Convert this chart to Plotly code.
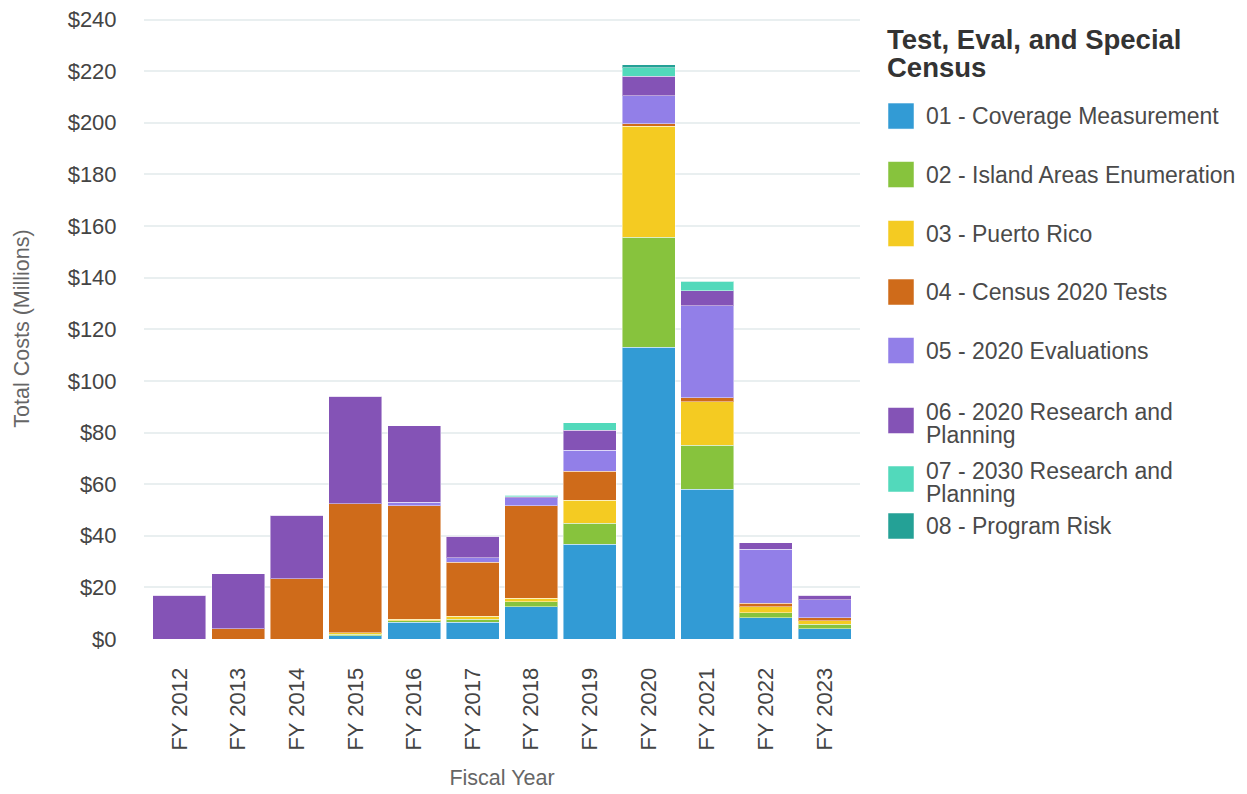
import plotly.graph_objects as go

years = ["FY 2012", "FY 2013", "FY 2014", "FY 2015", "FY 2016", "FY 2017",
         "FY 2018", "FY 2019", "FY 2020", "FY 2021", "FY 2022", "FY 2023"]

series_names = [
    "01 - Coverage Measurement",
    "02 - Island Areas Enumeration",
    "03 - Puerto Rico",
    "04 - Census 2020 Tests",
    "05 - 2020 Evaluations",
    "06 - 2020 Research and<br>Planning",
    "07 - 2030 Research and<br>Planning",
    "08 - Program Risk",
]

coverage    = [0, 0, 0, 1.2, 6.5, 6.5, 12.5, 36.7, 113.0, 58.1, 8.3, 3.9]
island      = [0, 0, 0, 0.6, 0.6, 1.2, 1.9, 8.1, 42.6, 16.9, 1.9, 1.9]
puerto_rico = [0, 0, 0, 0.6, 0.6, 1.2, 1.3, 8.9, 43.0, 17.0, 2.3, 1.3]
tests_2020  = [0, 3.9, 23.3, 50.1, 44.0, 20.8, 36.0, 11.2, 1.0, 1.4, 1.4, 1.2]
evals_2020  = [0, 0, 0, 0, 1.2, 1.8, 3.1, 8.3, 10.9, 35.8, 20.9, 6.9]
rp_2020     = [17.0, 21.4, 24.7, 41.6, 29.8, 8.4, 0.3, 7.6, 7.6, 5.8, 2.5, 1.8]
rp_2030     = [0, 0, 0, 0, 0, 0, 0.5, 2.9, 3.2, 3.6, 0, 0]
program_risk= [0, 0, 0, 0, 0, 0, 0, 0, 1.2, 0, 0, 0]

series_values = [coverage, island, puerto_rico, tests_2020, evals_2020,
                 rp_2020, rp_2030, program_risk]

colors = ["#329bd5", "#87c33d", "#f4cb22", "#cf6b1a", "#927fe8",
          "#8453b6", "#52d9bb", "#24a196"]

y_ticks = list(range(0, 241, 20))
y_tick_labels = [f"${v}" for v in y_ticks]

legend_title_lines = ["Test, Eval, and Special", "Census"]

FONT = "Liberation Sans, Arial, sans-serif"
W, H = 1247, 794
OFF = 8  # page body margin

# plot area in page pixels (y range extends slightly above 240)
Y_MAX = 240.6
PL, PR, PB = 144, 860, 639.5
PT = PB - (PB - 20) * Y_MAX / 240


def px(xp):
    return (xp - PL) / (PR - PL)


def py(yp):
    return (PB - yp) / (PB - PT)


fig = go.Figure()
for name, vals, col in zip(series_names, series_values, colors):
    fig.add_trace(go.Bar(
        x=years, y=vals, name=name.replace("<br>", " "),
        marker=dict(color=col, line=dict(color="rgba(255,255,255,0.45)", width=1)),
        showlegend=False,
    ))

# custom legend (layout decoration)
LEG_X = 888
title_centers = [40, 68]
square_centers = [116.5, 175, 234, 292.5, 351, 421, 479.5, 526.5]
text_centers = [[116.5], [175], [234], [292.5], [351], [412.5, 435.5], [471.5, 494.5], [526.5]]

shapes = []
annotations = []
for line, yc in zip(legend_title_lines, title_centers):
    annotations.append(dict(
        xref="paper", yref="paper", x=px(LEG_X - 2), y=py(yc),
        xanchor="left", yanchor="middle", showarrow=False, align="left",
        text=f"<b>{line}</b>", font=dict(family=FONT, size=27.5, color="#333333"),
        borderpad=0,
    ))
for name, col, sc, tcs in zip(series_names, colors, square_centers, text_centers):
    shapes.append(dict(type="rect", xref="paper", yref="paper",
                       x0=px(LEG_X), x1=px(LEG_X + 26), y0=py(sc + 13), y1=py(sc - 13),
                       fillcolor=col, line=dict(color="rgba(255,255,255,0.5)", width=1)))
    for line, tc in zip(name.split("<br>"), tcs):
        annotations.append(dict(
            xref="paper", yref="paper", x=px(LEG_X + 37), y=py(tc),
            xanchor="left", yanchor="middle", showarrow=False, align="left",
            text=line, font=dict(family=FONT, size=23, color="#4a4a4a"),
            borderpad=0,
        ))

fig.update_layout(
    barmode="stack",
    bargap=0.096,
    width=W, height=H,
    margin=dict(l=PL - OFF, r=W - (PR - OFF), t=PT - OFF, b=H - (PB - OFF), pad=0,
                autoexpand=False),
    plot_bgcolor="white",
    paper_bgcolor="white",
    font=dict(family=FONT, color="#444444"),
    shapes=shapes,
    annotations=annotations,
    xaxis=dict(
        title=dict(text="Fiscal Year", font=dict(size=21.5, color="#666666"), standoff=20),
        automargin=False,
        range=[-0.605, 11.605],
        tickangle=-90,
        tickfont=dict(size=22, color="#444444"),
        showgrid=False,
        ticks="outside", ticklen=19, tickcolor="rgba(0,0,0,0)",
    ),
    yaxis=dict(
        title=dict(text="Total Costs (Millions)", font=dict(size=21.5, color="#666666"), standoff=32),
        automargin=False,
        range=[0, Y_MAX],
        tickvals=y_ticks,
        ticktext=y_tick_labels,
        tickfont=dict(size=22, color="#444444"),
        ticklabeloverflow="allow",
        gridcolor="#e9eff0",
        gridwidth=2,
        zeroline=False,
        ticks="outside", ticklen=22, tickcolor="rgba(0,0,0,0)",
    ),
)

fig.write_html("out.html")
